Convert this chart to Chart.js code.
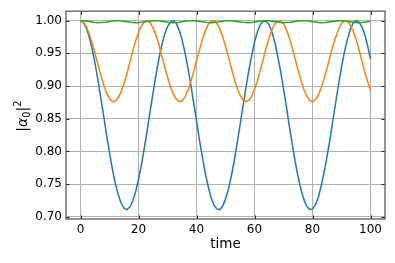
<!DOCTYPE html>
<html>
<head>
<meta charset="utf-8">
<script src="https://cdn.jsdelivr.net/npm/chart.js@4"></script>
<style>
  html, body { margin: 0; padding: 0; background: #fff; }
  #wrap { width: 395px; height: 263px; }
</style>
</head>
<body>
<div id="wrap"><canvas id="chart"></canvas></div>
<script>
// population of level 0 vs time (t = 0..100, step 1)
const times = Array.from({ length: 101 }, (_, i) => i);

const blue = [
  1.000, 0.997, 0.989, 0.975, 0.957, 0.935, 0.910, 0.882, 0.854, 0.825,
  0.798, 0.773, 0.751, 0.734, 0.721, 0.713, 0.711, 0.715, 0.724, 0.738,
  0.757, 0.779, 0.805, 0.832, 0.861, 0.889, 0.916, 0.941, 0.962, 0.979,
  0.991, 0.998, 1.000, 0.996, 0.986, 0.971, 0.952, 0.929, 0.903, 0.875,
  0.847, 0.818, 0.792, 0.767, 0.747, 0.730, 0.718, 0.712, 0.711, 0.716,
  0.727, 0.742, 0.762, 0.785, 0.812, 0.840, 0.868, 0.896, 0.923, 0.946,
  0.967, 0.983, 0.994, 0.999, 0.999, 0.994, 0.983, 0.967, 0.946, 0.923,
  0.896, 0.868, 0.839, 0.812, 0.785, 0.762, 0.742, 0.727, 0.716, 0.711,
  0.712, 0.718, 0.730, 0.747, 0.768, 0.792, 0.818, 0.847, 0.875, 0.903,
  0.929, 0.952, 0.971, 0.986, 0.996, 1.000, 0.998, 0.991, 0.979, 0.962,
  0.941
];

const orange = [
  1.000, 0.998, 0.991, 0.980, 0.966, 0.950, 0.933, 0.917, 0.902, 0.889,
  0.881, 0.876, 0.877, 0.882, 0.891, 0.904, 0.919, 0.936, 0.953, 0.969,
  0.982, 0.992, 0.998, 1.000, 0.997, 0.989, 0.978, 0.964, 0.947, 0.930,
  0.914, 0.899, 0.888, 0.880, 0.876, 0.877, 0.883, 0.893, 0.906, 0.922,
  0.939, 0.955, 0.971, 0.984, 0.994, 0.999, 1.000, 0.996, 0.988, 0.976,
  0.961, 0.945, 0.928, 0.911, 0.897, 0.886, 0.879, 0.876, 0.878, 0.884,
  0.895, 0.908, 0.924, 0.941, 0.958, 0.973, 0.986, 0.995, 0.999, 1.000,
  0.995, 0.986, 0.974, 0.959, 0.942, 0.925, 0.909, 0.895, 0.885, 0.878,
  0.876, 0.879, 0.886, 0.897, 0.911, 0.927, 0.944, 0.961, 0.975, 0.987,
  0.996, 1.000, 0.999, 0.994, 0.984, 0.972, 0.956, 0.939, 0.922, 0.907,
  0.893
];

const green = [
  1.0000, 0.9998, 0.9993, 0.9986, 0.9979, 0.9973, 0.9970, 0.9971, 0.9974, 0.9981,
  0.9988, 0.9995, 0.9999, 1.0000, 0.9997, 0.9992, 0.9985, 0.9978, 0.9973, 0.9970,
  0.9971, 0.9975, 0.9982, 0.9989, 0.9996, 0.9999, 1.0000, 0.9997, 0.9991, 0.9984,
  0.9977, 0.9972, 0.9970, 0.9972, 0.9977, 0.9984, 0.9991, 0.9997, 1.0000, 0.9999,
  0.9996, 0.9989, 0.9982, 0.9975, 0.9971, 0.9970, 0.9973, 0.9978, 0.9985, 0.9992,
  0.9997, 1.0000, 0.9999, 0.9995, 0.9988, 0.9981, 0.9974, 0.9971, 0.9970, 0.9973,
  0.9979, 0.9986, 0.9993, 0.9998, 1.0000, 0.9998, 0.9993, 0.9986, 0.9979, 0.9973,
  0.9970, 0.9971, 0.9974, 0.9981, 0.9988, 0.9995, 0.9999, 1.0000, 0.9997, 0.9992,
  0.9985, 0.9978, 0.9973, 0.9970, 0.9971, 0.9975, 0.9982, 0.9989, 0.9996, 0.9999,
  1.0000, 0.9997, 0.9991, 0.9984, 0.9977, 0.9972, 0.9970, 0.9972, 0.9977, 0.9984,
  0.9991
];

const xTicks = [0, 20, 40, 60, 80, 100];
const yTicks = [0.70, 0.75, 0.80, 0.85, 0.90, 0.95, 1.00];

const toPoints = ys => ys.map((y, i) => ({ x: times[i], y: y }));

// matplotlib-like frame with inward ticks on all four sides
const frame = {
  id: 'frame',
  afterDraw(chart) {
    const { ctx, chartArea: a, scales } = chart;
    ctx.save();
    ctx.strokeStyle = '#222';
    ctx.lineWidth = 1;
    ctx.beginPath();
    xTicks.forEach(v => {
      const px = Math.round(scales.x.getPixelForValue(v)) + 0.5;
      ctx.moveTo(px, a.bottom); ctx.lineTo(px, a.bottom - 3.5);
      ctx.moveTo(px, a.top); ctx.lineTo(px, a.top + 3.5);
    });
    yTicks.forEach(v => {
      const py = Math.round(scales.y.getPixelForValue(v)) + 0.5;
      ctx.moveTo(a.left, py); ctx.lineTo(a.left + 3.5, py);
      ctx.moveTo(a.right, py); ctx.lineTo(a.right - 3.5, py);
    });
    ctx.stroke();
    ctx.strokeStyle = '#666';
    ctx.lineWidth = 1.4;
    ctx.strokeRect(a.left, a.top, a.right - a.left, a.bottom - a.top);
    ctx.restore();
  }
};

// y axis label |α0|^2 in mathtext style (italic alpha, subscript, superscript)
const yLabel = {
  id: 'yLabel',
  afterDraw(chart) {
    const { ctx, chartArea: a } = chart;
    const fs = 14;
    const parts = [
      { t: '|', font: `${fs}px "DejaVu Sans"`, dy: 0 },
      { t: 'α', font: `italic ${fs}px "DejaVu Sans"`, dy: 0 },
      { t: '0', font: `${fs * 0.7}px "DejaVu Sans"`, dy: 2.5 },
      { t: '|', font: `${fs}px "DejaVu Sans"`, dy: 0 },
      { t: '2', font: `${fs * 0.7}px "DejaVu Sans"`, dy: -6.5 }
    ];
    ctx.save();
    let w = 0;
    parts.forEach(p => { ctx.font = p.font; p.w = ctx.measureText(p.t).width; w += p.w; });
    ctx.translate(27, (a.top + a.bottom) / 2 + 1);
    ctx.rotate(-Math.PI / 2);
    ctx.fillStyle = '#000';
    ctx.textBaseline = 'alphabetic';
    let x = -w / 2;
    parts.forEach(p => { ctx.font = p.font; ctx.fillText(p.t, x, p.dy); x += p.w; });
    ctx.restore();
  }
};

new Chart(document.getElementById('chart'), {
  type: 'line',
  data: {
    datasets: [
      { data: toPoints(blue), borderColor: '#1f77b4', order: 3 },
      { data: toPoints(orange), borderColor: '#ff7f0e', order: 2 },
      { data: toPoints(green), borderColor: '#2ca02c', order: 1 }
    ]
  },
  options: {
    responsive: true,
    maintainAspectRatio: false,
    animation: false,
    layout: { padding: { top: 10, right: 10, left: 0, bottom: 0 } },
    elements: {
      point: { radius: 0 },
      line: { borderWidth: 1.5, tension: 0 }
    },
    plugins: { legend: { display: false }, tooltip: { enabled: false } },
    scales: {
      x: {
        type: 'linear',
        min: -5,
        max: 105,
        afterBuildTicks: s => { s.ticks = xTicks.map(v => ({ value: v })); },
        afterFit: s => { s.height = 44; },
        ticks: {
          color: '#000',
          padding: 4,
          font: { family: 'DejaVu Sans', size: 12 },
          maxRotation: 0
        },
        grid: { color: '#b0b0b0', lineWidth: 1, drawTicks: false },
        border: { display: false },
        title: {
          display: true,
          text: 'time',
          color: '#000',
          font: { family: 'DejaVu Sans', size: 13.5 },
          padding: { top: 0, bottom: 10 }
        }
      },
      y: {
        min: 0.6966,
        max: 1.0145,
        afterBuildTicks: s => { s.ticks = yTicks.map(v => ({ value: v })); },
        afterFit: s => { s.width = 66; },
        ticks: {
          color: '#000',
          padding: 4,
          font: { family: 'DejaVu Sans', size: 12 },
          callback: v => v.toFixed(2)
        },
        grid: { color: '#b0b0b0', lineWidth: 1, drawTicks: false },
        border: { display: false }
      }
    }
  },
  plugins: [frame, yLabel]
});
</script>
</body>
</html>
